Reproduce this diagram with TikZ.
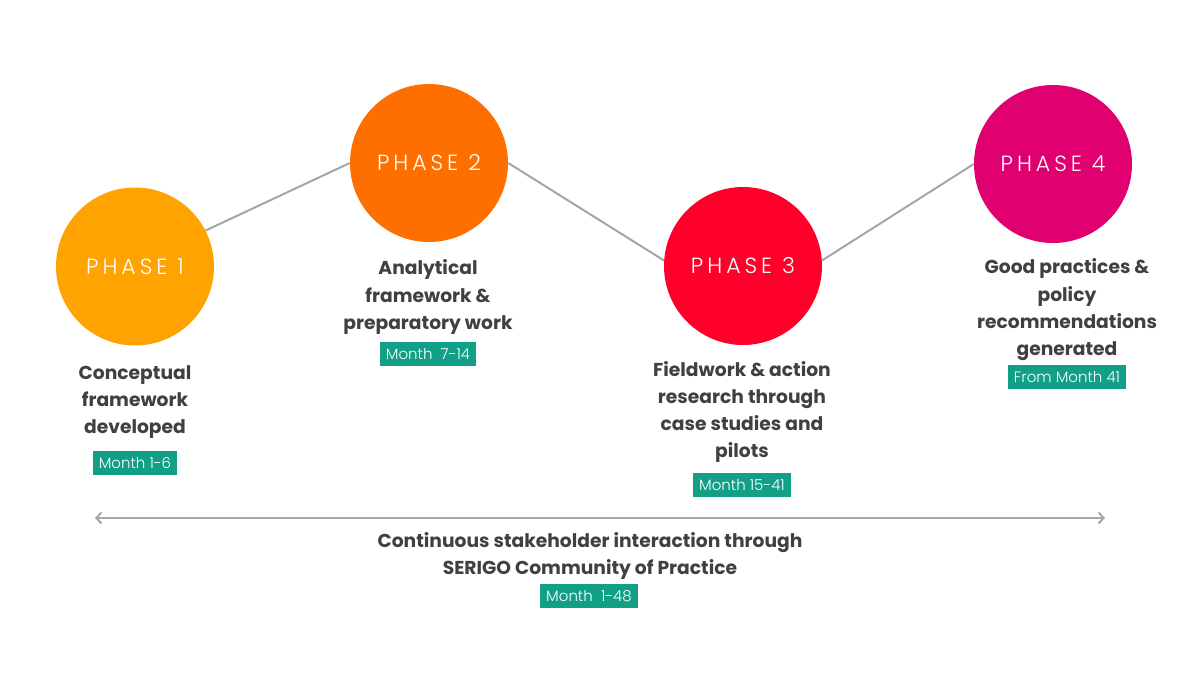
\documentclass[tikz,border=0pt]{standalone}
\usepackage{fontspec}
\setmainfont{Poppins}
\newfontfamily\phasefont{Poppins Light}[LetterSpace=18]
\newfontfamily\boxfont{Poppins Light}
\usetikzlibrary{arrows.meta}
\definecolor{pone}{RGB}{255,163,0}
\definecolor{ptwo}{RGB}{255,111,0}
\definecolor{pthree}{RGB}{255,0,42}
\definecolor{pfour}{RGB}{224,0,112}
\definecolor{txtgray}{RGB}{64,64,64}
\definecolor{teal}{RGB}{17,160,133}
\definecolor{lgray}{RGB}{166,166,166}
\tikzset{
  phase/.style={circle, minimum size=158pt, inner sep=0pt, text=white,
    font=\phasefont\fontsize{22}{24}\selectfont},
  desc/.style={align=center, text=txtgray, inner sep=0pt,
    font=\bfseries\fontsize{18.7}{27.3}\selectfont},
  monthbox/.style={fill=teal, text=white, inner xsep=6pt, inner ysep=0pt,
    minimum height=24pt, font=\boxfont\fontsize{15}{17}\selectfont},
  link/.style={draw=lgray, line width=2pt}
}
\begin{document}
\begin{tikzpicture}[x=1pt,y=-1pt]
\useasboundingbox[fill=white] (0,0) rectangle (1200,675);
% circles
\node[phase, fill=pone]   (p1) at (135,266.5) {PHASE 1};
\node[phase, fill=ptwo]   (p2) at (429,163)   {PHASE 2};
\node[phase, fill=pthree] (p3) at (743,266)   {PHASE 3};
\node[phase, fill=pfour]  (p4) at (1053,164)  {PHASE 4};
% connectors
\draw[link] (p1.27) -- (p2.180);
\draw[link] (p2.0) -- (p3.176);
\draw[link] (p3.4) -- (p4.180);
% descriptions
\node[desc] (d1) at (135,402) {Conceptual\\framework\\developed};
\node[monthbox] (m1) at (135,463) {Month 1-6};
\node[desc] (d2) at (428,297) {Analytical\\framework \&\\preparatory work};
\node[monthbox] (m2) at (428,354) {Month\ \ 7-14};
\node[desc] (d3) at (742,412) {Fieldwork \& action\\research through\\case studies and\\pilots};
\node[monthbox] (m3) at (742,485) {Month 15-41};
\node[desc] (d4) at (1067,310) {Good practices \&\\policy\\recommendations\\generated};
\node[monthbox] (m4) at (1067,377) {From Month 41};
% bottom arrow
\coordinate (al) at (95,518);
\coordinate (ar) at (1105,518);
\draw[link, {Straight Barb[length=5pt,width=11pt]}-{Straight Barb[length=5pt,width=11pt]}] (al) -- (ar);
\node[desc] (d5) at (590,556) {Continuous stakeholder interaction through\\SERIGO Community of Practice};
\node[monthbox] (m5) at (589,596) {Month\ \ 1-48};
\end{tikzpicture}
\end{document}
